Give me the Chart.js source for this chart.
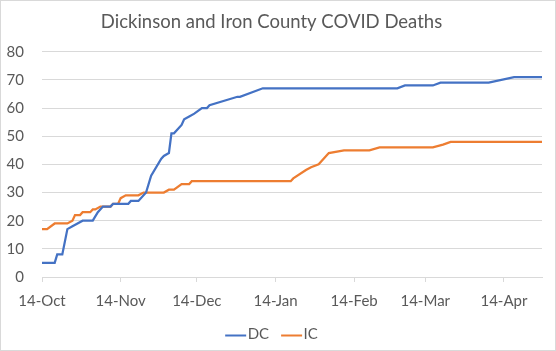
<!DOCTYPE html>
<html>
  <head>
    <title>Dickinson and Iron County COVID Deaths</title>
    <script src="https://cdn.jsdelivr.net/npm/chart.js"></script>
    <style>
      body { margin: 0; background: #fff; }
      .chart-box { width: 556px; height: 351px; box-sizing: border-box; border: 1px solid #d9d9d9; position: relative; }
    </style>
  </head>
  <body>
    <div class="chart-box">
      <canvas id="myChart"></canvas>
    </div>

    <script>
      // Days counted from 14-Oct; values at each change point
      const dcDays   = [0, 5, 6, 8, 10, 12, 14, 16, 20, 22, 24, 27, 28, 34, 35, 38, 41, 43, 47, 48, 50, 51, 52, 55, 56, 58, 60, 63, 65, 66, 77, 78, 87, 140, 143, 154, 157, 176, 186, 197];
      const dcDeaths = [5, 5, 8, 8, 17, 18, 19, 20, 20, 23, 25, 25, 26, 26, 27, 27, 30, 36, 42, 43, 44, 51, 51, 54, 56, 57, 58, 60, 60, 61, 64, 64, 67, 67, 68, 68, 69, 69, 71, 71];

      const icDays   = [0, 2, 5, 10, 12, 13, 15, 16, 19, 20, 21, 23, 27, 28, 30, 31, 33, 38, 40, 48, 50, 52, 55, 58, 59, 98, 99, 104, 106, 109, 113, 119, 129, 133, 154, 158, 161, 197];
      const icDeaths = [17, 17, 19, 19, 20, 22, 22, 23, 23, 24, 24, 25, 25, 26, 26, 28, 29, 29, 30, 30, 31, 31, 33, 33, 34, 34, 35, 38, 39, 40, 44, 45, 45, 46, 46, 47, 48, 48];

      const tickDays   = [0, 31, 61, 92, 123, 151, 182];
      const tickLabels = ['14-Oct', '14-Nov', '14-Dec', '14-Jan', '14-Feb', '14-Mar', '14-Apr'];

      const lastDay = 197;

      function toPoints(days, values) {
        return days.map((d, i) => ({ x: d, y: values[i] }));
      }

      const grey = '#595959';
      const fontName = 'Lato';
      const legendLine = 21;

      // Excel-style legend keys: a line that runs right up to the label text
      const legendLines = {
        id: 'legendLines',
        afterDraw(c) {
          const lg = c.legend;
          if (!lg || !lg.legendHitBoxes) return;
          const g = c.ctx;
          lg.legendHitBoxes.forEach((box, i) => {
            const ds = c.data.datasets[i];
            const y = Math.round(box.top + box.height / 2) + 0.5;
            g.save();
            g.strokeStyle = ds.borderColor;
            g.lineWidth = 2;
            g.beginPath();
            g.moveTo(box.left, y);
            g.lineTo(box.left + legendLine, y);
            g.stroke();
            g.restore();
          });
        },
      };

      const ctx = document.getElementById('myChart').getContext('2d');
      const chart = new Chart(ctx, {
        type: 'line',
        data: {
          datasets: [
            {
              label: 'DC',
              data: toPoints(dcDays, dcDeaths),
              borderColor: '#4472C4',
              backgroundColor: '#4472C4',
              borderWidth: 2.25,
              pointRadius: 0,
              tension: 0,
            },
            {
              label: 'IC',
              data: toPoints(icDays, icDeaths),
              borderColor: '#ED7D31',
              backgroundColor: '#ED7D31',
              borderWidth: 2.25,
              pointRadius: 0,
              tension: 0,
            },
          ],
        },
        plugins: [legendLines],
        options: {
          responsive: true,
          maintainAspectRatio: false,
          animation: false,
          layout: { padding: { left: 0, right: 13, top: 0, bottom: -2 } },
          plugins: {
            title: {
              display: true,
              text: 'Dickinson and Iron County COVID Deaths',
              color: grey,
              font: { family: fontName, size: 18.5, weight: 'normal' },
              padding: { top: 10, bottom: 18.5 },
            },
            legend: {
              position: 'bottom',
              labels: {
                color: grey,
                font: { family: fontName, size: 15 },
                boxWidth: 15,
                boxHeight: 2,
                padding: 12,
                generateLabels: (c) => Chart.defaults.plugins.legend.labels.generateLabels(c).map(item => {
                  item.lineWidth = 0;
                  item.fillStyle = 'rgba(0,0,0,0)';
                  return item;
                }),
              },
            },
            tooltip: { enabled: false },
          },
          scales: {
            x: {
              type: 'linear',
              min: 0,
              max: lastDay,
              afterBuildTicks: (axis) => {
                axis.ticks = tickDays.map(v => ({ value: v }));
              },
              afterFit: (axis) => { axis.height = 38; },
              ticks: {
                color: grey,
                font: { family: fontName, size: 15 },
                padding: 10,
                maxRotation: 0,
                autoSkip: false,
                callback: (value) => tickLabels[tickDays.indexOf(value)],
              },
              grid: {
                drawOnChartArea: false,
                drawTicks: true,
                tickLength: 5,
                color: '#d9d9d9',
              },
              border: { color: '#d9d9d9' },
            },
            y: {
              min: 0,
              max: 80,
              afterFit: (axis) => { axis.width = 41; },
              ticks: {
                stepSize: 10,
                color: grey,
                font: { family: fontName, size: 15 },
                padding: 18,
              },
              grid: { color: '#d9d9d9', drawTicks: false },
              border: { display: false },
            },
          },
        },
      });
    </script>
  </body>
</html>
